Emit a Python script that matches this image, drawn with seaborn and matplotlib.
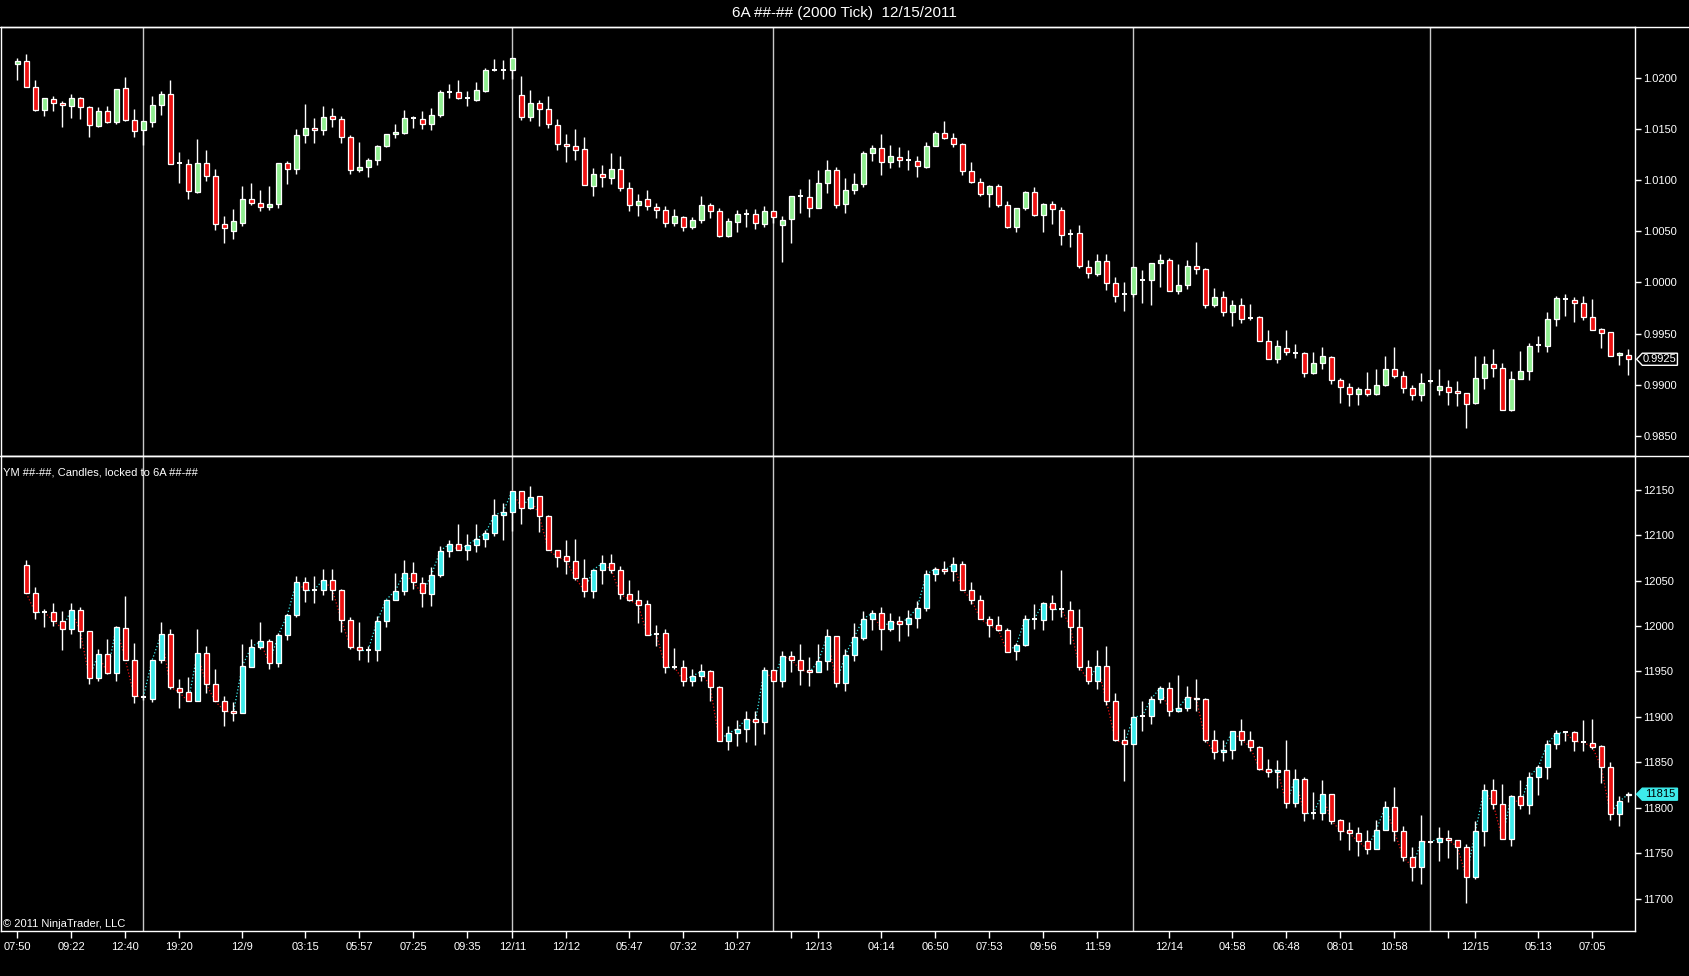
import numpy as np
import pandas as pd
import matplotlib
matplotlib.use('Agg')
import matplotlib.pyplot as plt
import matplotlib.transforms as mtransforms
from matplotlib.lines import Line2D
from matplotlib.patches import Polygon
from matplotlib.ticker import FormatStrFormatter
import seaborn as sns

# --- 6A (top panel), 180 bars of 2000 ticks ---
a_open = [
    1.0213, 1.0216, 1.0191, 1.0168, 1.0179, 1.0175, 1.0172, 1.0180, 1.0171, 1.0153,
    1.0167, 1.0157, 1.0190, 1.0159, 1.0149, 1.0157, 1.0173, 1.0184, 1.0117, 1.0116,
    1.0088, 1.0117, 1.0104, 1.0057, 1.0050, 1.0058, 1.0082, 1.0078, 1.0074, 1.0077,
    1.0117, 1.0111, 1.0144, 1.0151, 1.0149, 1.0163, 1.0160, 1.0142, 1.0110, 1.0113,
    1.0120, 1.0133, 1.0145, 1.0146, 1.0161, 1.0160, 1.0155, 1.0164, 1.0186, 1.0186,
    1.0180, 1.0178, 1.0187, 1.0208, 1.0208, 1.0208, 1.0183, 1.0162, 1.0175, 1.0169,
    1.0154, 1.0135, 1.0133, 1.0130, 1.0094, 1.0106, 1.0102, 1.0111, 1.0092, 1.0076,
    1.0082, 1.0074, 1.0071, 1.0058, 1.0064, 1.0054, 1.0061, 1.0076, 1.0070, 1.0045,
    1.0059, 1.0067, 1.0067, 1.0057, 1.0070, 1.0056, 1.0062, 1.0084, 1.0083, 1.0073,
    1.0097, 1.0110, 1.0077, 1.0090, 1.0096, 1.0126, 1.0131, 1.0118, 1.0123, 1.0120,
    1.0119, 1.0113, 1.0133, 1.0146, 1.0141, 1.0135, 1.0109, 1.0098, 1.0086, 1.0094,
    1.0076, 1.0054, 1.0073, 1.0088, 1.0066, 1.0077, 1.0071, 1.0047, 1.0048, 1.0015,
    1.0008, 1.0021, 0.9999, 0.9989, 0.9989, 1.0002, 1.0002, 1.0019, 1.0022, 0.9992,
    0.9998, 1.0016, 1.0013, 0.9978, 0.9986, 0.9971, 0.9978, 0.9965, 0.9966, 0.9943,
    0.9925, 0.9936, 0.9931, 0.9931, 0.9912, 0.9921, 0.9927, 0.9905, 0.9898, 0.9891,
    0.9896, 0.9891, 0.9900, 0.9915, 0.9909, 0.9897, 0.9890, 0.9904, 0.9895, 0.9898,
    0.9894, 0.9892, 0.9882, 0.9907, 0.9920, 0.9916, 0.9875, 0.9906, 0.9914, 0.9939,
    0.9938, 0.9964, 0.9984, 0.9983, 0.9980, 0.9966, 0.9955, 0.9952, 0.9929, 0.9929,
]
a_high = [
    1.0219, 1.0223, 1.0198, 1.0180, 1.0182, 1.0177, 1.0184, 1.0181, 1.0172, 1.0171,
    1.0172, 1.0189, 1.0201, 1.0169, 1.0158, 1.0182, 1.0187, 1.0198, 1.0127, 1.0121,
    1.0140, 1.0129, 1.0111, 1.0065, 1.0072, 1.0094, 1.0097, 1.0090, 1.0094, 1.0117,
    1.0119, 1.0150, 1.0174, 1.0161, 1.0172, 1.0170, 1.0163, 1.0144, 1.0137, 1.0122,
    1.0134, 1.0145, 1.0155, 1.0168, 1.0163, 1.0167, 1.0170, 1.0188, 1.0194, 1.0198,
    1.0187, 1.0196, 1.0209, 1.0218, 1.0217, 1.0219, 1.0202, 1.0188, 1.0178, 1.0182,
    1.0160, 1.0145, 1.0150, 1.0142, 1.0112, 1.0115, 1.0126, 1.0124, 1.0098, 1.0086,
    1.0090, 1.0078, 1.0075, 1.0072, 1.0065, 1.0064, 1.0084, 1.0078, 1.0073, 1.0063,
    1.0071, 1.0072, 1.0072, 1.0075, 1.0070, 1.0065, 1.0084, 1.0091, 1.0101, 1.0110,
    1.0120, 1.0113, 1.0102, 1.0107, 1.0128, 1.0134, 1.0145, 1.0134, 1.0132, 1.0129,
    1.0124, 1.0137, 1.0148, 1.0158, 1.0146, 1.0136, 1.0118, 1.0102, 1.0095, 1.0096,
    1.0080, 1.0073, 1.0089, 1.0093, 1.0078, 1.0080, 1.0074, 1.0052, 1.0056, 1.0022,
    1.0028, 1.0028, 1.0005, 1.0000, 1.0015, 1.0012, 1.0019, 1.0028, 1.0024, 1.0018,
    1.0022, 1.0040, 1.0014, 0.9995, 0.9992, 0.9983, 0.9985, 0.9979, 0.9967, 0.9954,
    0.9944, 0.9954, 0.9940, 0.9932, 0.9932, 0.9937, 0.9928, 0.9907, 0.9902, 0.9898,
    0.9913, 0.9915, 0.9928, 0.9937, 0.9914, 0.9900, 0.9912, 0.9905, 0.9915, 0.9905,
    0.9904, 0.9892, 0.9928, 0.9928, 0.9935, 0.9921, 0.9914, 0.9933, 0.9941, 0.9948,
    0.9971, 0.9987, 0.9989, 0.9986, 0.9987, 0.9984, 0.9956, 0.9952, 0.9932, 0.9935,
]
a_low = [
    1.0198, 1.0191, 1.0167, 1.0163, 1.0167, 1.0152, 1.0161, 1.0160, 1.0142, 1.0152,
    1.0156, 1.0155, 1.0158, 1.0142, 1.0134, 1.0152, 1.0164, 1.0116, 1.0097, 1.0082,
    1.0087, 1.0099, 1.0051, 1.0039, 1.0042, 1.0055, 1.0076, 1.0070, 1.0071, 1.0073,
    1.0096, 1.0106, 1.0136, 1.0136, 1.0144, 1.0152, 1.0136, 1.0106, 1.0108, 1.0103,
    1.0115, 1.0132, 1.0141, 1.0145, 1.0151, 1.0150, 1.0149, 1.0162, 1.0180, 1.0179,
    1.0172, 1.0177, 1.0186, 1.0207, 1.0199, 1.0199, 1.0159, 1.0158, 1.0153, 1.0151,
    1.0129, 1.0118, 1.0120, 1.0095, 1.0084, 1.0093, 1.0096, 1.0089, 1.0070, 1.0065,
    1.0071, 1.0063, 1.0054, 1.0055, 1.0050, 1.0052, 1.0058, 1.0063, 1.0044, 1.0044,
    1.0049, 1.0054, 1.0052, 1.0054, 1.0058, 1.0020, 1.0039, 1.0068, 1.0064, 1.0073,
    1.0087, 1.0073, 1.0068, 1.0086, 1.0093, 1.0119, 1.0105, 1.0112, 1.0113, 1.0110,
    1.0103, 1.0112, 1.0133, 1.0140, 1.0132, 1.0105, 1.0097, 1.0084, 1.0074, 1.0074,
    1.0053, 1.0049, 1.0071, 1.0065, 1.0049, 1.0057, 1.0037, 1.0035, 1.0014, 1.0004,
    1.0006, 0.9993, 0.9981, 0.9972, 0.9986, 0.9980, 0.9978, 0.9996, 0.9992, 0.9989,
    0.9994, 1.0008, 0.9975, 0.9976, 0.9967, 0.9957, 0.9960, 0.9963, 0.9943, 0.9925,
    0.9921, 0.9929, 0.9926, 0.9908, 0.9911, 0.9915, 0.9901, 0.9882, 0.9879, 0.9880,
    0.9889, 0.9890, 0.9899, 0.9907, 0.9892, 0.9885, 0.9884, 0.9902, 0.9890, 0.9880,
    0.9879, 0.9858, 0.9881, 0.9896, 0.9908, 0.9875, 0.9874, 0.9906, 0.9905, 0.9932,
    0.9932, 0.9957, 0.9967, 0.9961, 0.9963, 0.9954, 0.9936, 0.9928, 0.9919, 0.9910,
]
a_close = [
    1.0216, 1.0191, 1.0168, 1.0180, 1.0175, 1.0173, 1.0180, 1.0171, 1.0154, 1.0167,
    1.0157, 1.0189, 1.0159, 1.0148, 1.0158, 1.0173, 1.0184, 1.0116, 1.0117, 1.0089,
    1.0117, 1.0104, 1.0057, 1.0053, 1.0060, 1.0082, 1.0078, 1.0074, 1.0077, 1.0117,
    1.0111, 1.0144, 1.0151, 1.0149, 1.0162, 1.0160, 1.0142, 1.0110, 1.0113, 1.0120,
    1.0133, 1.0145, 1.0147, 1.0161, 1.0161, 1.0155, 1.0164, 1.0186, 1.0186, 1.0180,
    1.0180, 1.0188, 1.0208, 1.0208, 1.0208, 1.0219, 1.0162, 1.0175, 1.0169, 1.0155,
    1.0135, 1.0133, 1.0129, 1.0095, 1.0106, 1.0103, 1.0111, 1.0092, 1.0076, 1.0080,
    1.0075, 1.0071, 1.0058, 1.0065, 1.0054, 1.0061, 1.0076, 1.0070, 1.0045, 1.0060,
    1.0067, 1.0067, 1.0058, 1.0070, 1.0064, 1.0061, 1.0084, 1.0084, 1.0073, 1.0097,
    1.0110, 1.0076, 1.0090, 1.0096, 1.0126, 1.0131, 1.0118, 1.0124, 1.0120, 1.0120,
    1.0114, 1.0133, 1.0146, 1.0141, 1.0135, 1.0109, 1.0098, 1.0086, 1.0094, 1.0076,
    1.0054, 1.0073, 1.0088, 1.0066, 1.0077, 1.0072, 1.0046, 1.0047, 1.0016, 1.0009,
    1.0021, 0.9999, 0.9987, 0.9989, 1.0015, 1.0002, 1.0019, 1.0022, 0.9992, 0.9998,
    1.0016, 1.0013, 0.9978, 0.9986, 0.9971, 0.9978, 0.9964, 0.9965, 0.9943, 0.9925,
    0.9938, 0.9932, 0.9931, 0.9912, 0.9921, 0.9928, 0.9905, 0.9898, 0.9891, 0.9896,
    0.9891, 0.9900, 0.9915, 0.9909, 0.9897, 0.9890, 0.9902, 0.9904, 0.9899, 0.9893,
    0.9892, 0.9881, 0.9907, 0.9920, 0.9916, 0.9875, 0.9906, 0.9914, 0.9938, 0.9939,
    0.9964, 0.9985, 0.9984, 0.9980, 0.9966, 0.9954, 0.9951, 0.9928, 0.9931, 0.9925,
]

# --- YM (bottom panel), locked to the 6A bars, starts at bar 1 ---
ym_open = [
    12067, 12036, 12015, 12015, 12005, 11997, 12018, 11994, 11943, 11969,
    11948, 11998, 11963, 11922, 11920, 11963, 11991, 11932, 11927, 11917,
    11970, 11936, 11918, 11907, 11904, 11955, 11977, 11984, 11959, 11990,
    12012, 12048, 12040, 12040, 12051, 12040, 12007, 11977, 11974, 11974,
    12006, 12029, 12039, 12058, 12047, 12035, 12056, 12082, 12090, 12084,
    12089, 12096, 12102, 12122, 12126, 12149, 12130, 12143, 12121, 12084,
    12077, 12072, 12053, 12039, 12062, 12069, 12062, 12035, 12029, 12024,
    11991, 11992, 11955, 11955, 11940, 11945, 11950, 11933, 11874, 11882,
    11887, 11898, 11894, 11952, 11940, 11967, 11963, 11952, 11949, 11961,
    11989, 11937, 11968, 11987, 12008, 12014, 11997, 12005, 12002, 12009,
    12020, 12057, 12063, 12061, 12068, 12040, 12029, 12008, 12001, 11996,
    11972, 11979, 12008, 12007, 12025, 12019, 12018, 11999, 11955, 11940,
    11956, 11918, 11875, 11870, 11901, 11901, 11920, 11932, 11906, 11910,
    11921, 11920, 11875, 11861, 11864, 11884, 11875, 11867, 11843, 11839,
    11842, 11805, 11832, 11794, 11794, 11815, 11787, 11776, 11772, 11763,
    11755, 11776, 11801, 11774, 11746, 11735, 11762, 11762, 11767, 11765,
    11757, 11724, 11774, 11820, 11804, 11766, 11813, 11803, 11834, 11845,
    11870, 11883, 11883, 11872, 11871, 11868, 11845, 11793, 11814,
]
ym_high = [
    12073, 12043, 12019, 12025, 12016, 12025, 12021, 11994, 11975, 11986,
    12000, 12033, 11981, 11924, 11963, 12004, 11997, 11942, 11944, 11997,
    11978, 11953, 11923, 11916, 11980, 11986, 12004, 11986, 11992, 12013,
    12055, 12054, 12055, 12063, 12063, 12041, 12010, 12004, 11978, 12011,
    12029, 12058, 12073, 12070, 12054, 12065, 12088, 12095, 12112, 12101,
    12112, 12106, 12140, 12135, 12149, 12149, 12154, 12143, 12122, 12084,
    12095, 12096, 12074, 12062, 12078, 12079, 12066, 12051, 12040, 12029,
    12001, 11997, 11976, 11963, 11953, 11958, 11952, 11934, 11890, 11897,
    11906, 11906, 11955, 11952, 11972, 11972, 11980, 11966, 11980, 11997,
    11989, 11975, 12003, 12016, 12018, 12021, 12014, 12011, 12018, 12028,
    12062, 12065, 12072, 12076, 12071, 12048, 12034, 12011, 12011, 11998,
    11981, 12012, 12024, 12026, 12034, 12062, 12027, 12019, 11963, 11974,
    11978, 11926, 11887, 11900, 11917, 11923, 11934, 11938, 11946, 11934,
    11942, 11921, 11886, 11875, 11885, 11898, 11885, 11868, 11854, 11853,
    11875, 11843, 11834, 11817, 11831, 11815, 11788, 11784, 11779, 11776,
    11787, 11807, 11823, 11780, 11757, 11792, 11763, 11779, 11776, 11765,
    11760, 11785, 11826, 11832, 11826, 11814, 11831, 11839, 11847, 11875,
    11886, 11885, 11884, 11897, 11898, 11869, 11850, 11813, 11817,
]
ym_low = [
    12036, 12008, 11999, 12000, 11974, 11991, 11976, 11936, 11940, 11947,
    11939, 11963, 11915, 11919, 11916, 11959, 11931, 11910, 11917, 11917,
    11926, 11917, 11890, 11896, 11904, 11955, 11975, 11953, 11955, 11985,
    12010, 12026, 12025, 12034, 12029, 11993, 11975, 11963, 11960, 11961,
    11999, 12029, 12034, 12041, 12021, 12022, 12054, 12076, 12084, 12073,
    12081, 12087, 12099, 12095, 12105, 12112, 12129, 12103, 12084, 12065,
    12057, 12051, 12032, 12031, 12046, 12058, 12030, 12028, 12003, 11990,
    11978, 11948, 11953, 11934, 11934, 11940, 11918, 11874, 11864, 11868,
    11872, 11869, 11881, 11940, 11933, 11949, 11935, 11934, 11949, 11952,
    11933, 11929, 11962, 11985, 11996, 11974, 11994, 11983, 11989, 11998,
    12017, 12050, 12057, 12050, 12040, 12024, 12008, 11988, 11995, 11971,
    11963, 11978, 11997, 11996, 12007, 12010, 11980, 11952, 11936, 11931,
    11913, 11874, 11830, 11870, 11885, 11892, 11915, 11901, 11905, 11906,
    11907, 11872, 11854, 11851, 11854, 11869, 11862, 11842, 11834, 11822,
    11800, 11801, 11786, 11788, 11787, 11782, 11765, 11754, 11747, 11749,
    11755, 11776, 11763, 11741, 11720, 11716, 11761, 11742, 11745, 11733,
    11695, 11722, 11758, 11799, 11766, 11758, 11799, 11793, 11814, 11832,
    11865, 11874, 11863, 11863, 11865, 11827, 11787, 11780, 11806,
]
ym_close = [
    12036, 12015, 12015, 12006, 11997, 12018, 11994, 11943, 11969, 11948,
    11999, 11963, 11923, 11922, 11963, 11991, 11933, 11927, 11917, 11970,
    11936, 11917, 11907, 11904, 11956, 11977, 11983, 11959, 11990, 12012,
    12048, 12040, 12040, 12051, 12040, 12007, 11977, 11974, 11974, 12006,
    12029, 12039, 12058, 12048, 12036, 12056, 12083, 12090, 12084, 12089,
    12096, 12102, 12122, 12126, 12149, 12130, 12142, 12121, 12084, 12076,
    12072, 12053, 12039, 12062, 12069, 12062, 12035, 12029, 12023, 11990,
    11991, 11955, 11955, 11940, 11945, 11950, 11933, 11874, 11882, 11887,
    11898, 11894, 11952, 11940, 11967, 11963, 11952, 11949, 11961, 11989,
    11937, 11968, 11988, 12008, 12014, 11997, 12005, 12002, 12009, 12020,
    12057, 12063, 12061, 12068, 12040, 12029, 12008, 12001, 11996, 11971,
    11979, 12008, 12008, 12025, 12019, 12019, 11999, 11955, 11940, 11956,
    11918, 11875, 11870, 11900, 11901, 11920, 11932, 11906, 11910, 11922,
    11920, 11875, 11861, 11864, 11884, 11875, 11867, 11843, 11839, 11842,
    11805, 11832, 11794, 11794, 11815, 11786, 11775, 11772, 11763, 11755,
    11776, 11801, 11774, 11746, 11735, 11763, 11762, 11767, 11765, 11757,
    11724, 11774, 11820, 11804, 11766, 11813, 11803, 11834, 11845, 11870,
    11882, 11883, 11873, 11872, 11867, 11845, 11793, 11807, 11815,
]

# x-axis: bar index -> label
tick_bars = [0, 6, 12, 18, 25, 32, 38, 44, 50, 55, 61, 68, 74, 80, 86, 89,
             96, 102, 108, 114, 120, 128, 135, 141, 147, 153, 159, 162, 169, 175]
tick_labels = ['07:50', '09:22', '12:40', '19:20', '12/9', '03:15', '05:57', '07:25',
               '09:35', '12/11', '12/12', '05:47', '07:32', '10:27', '', '12/13',
               '04:14', '06:50', '07:53', '09:56', '11:59', '12/14', '04:58', '06:48',
               '08:01', '10:58', '', '12/15', '05:13', '07:05']
session_bars = [14, 55, 84, 124, 157]

a_ticks = [0.9850, 0.9900, 0.9950, 1.0000, 1.0050, 1.0100, 1.0150, 1.0200]
ym_ticks = [11700, 11750, 11800, 11850, 11900, 11950, 12000, 12050, 12100, 12150]

GREEN = '#90EE90'
RED = '#EE1111'
CYAN = '#3DEBEB'

sns.set_theme(style='dark', rc={
    'figure.facecolor': 'black',
    'axes.facecolor': 'black',
    'axes.edgecolor': 'white',
    'axes.linewidth': 1.0,
    'axes.grid': False,
    'text.color': 'white',
    'xtick.color': 'white',
    'ytick.color': 'white',
})
plt.rcParams['font.family'] = ['Liberation Sans Narrow', 'Liberation Sans', 'DejaVu Sans']


def draw_candles(ax, x, o, h, l, c, up_col, down_col, tol):
    x = np.asarray(x, dtype=float)
    o, h, l, c = (np.asarray(v, dtype=float) for v in (o, h, l, c))
    ax.vlines(x, l, h, color='white', lw=1.0, zorder=2)
    body = np.abs(c - o)
    doji = body < tol
    cols = np.where(c > o, up_col, down_col)
    ax.bar(x[~doji], body[~doji], bottom=np.minimum(o, c)[~doji], width=0.62,
           color=cols[~doji], edgecolor='white', linewidth=0.9, zorder=3)
    ax.hlines(c[doji], x[doji] - 0.31, x[doji] + 0.31, color='white', lw=1.4, zorder=3)


def price_tag(ax, y, hh, text, face, edge, tcol):
    tr = mtransforms.blended_transform_factory(ax.transAxes, ax.transData)
    pts = [(1.001, y), (1.0045, y + hh), (1.026, y + hh), (1.026, y - hh), (1.0045, y - hh)]
    ax.add_patch(Polygon(pts, closed=True, transform=tr, facecolor=face,
                         edgecolor=edge, lw=1, clip_on=False, zorder=10))
    ax.text(1.0153, y, text, transform=tr, ha='center', va='center',
            fontsize=8, color=tcol, clip_on=False, zorder=11)


fig = plt.figure(figsize=(16.89, 9.76), dpi=100)
ax_top = fig.add_axes([0.0006, 0.5331, 0.9674, 0.4392])
ax_bot = fig.add_axes([0.0006, 0.0465, 0.9674, 0.4866])

x_a = np.arange(len(a_close))
x_ym = np.arange(1, len(ym_close) + 1)

# closes of YM joined by a dotted line, coloured by direction
seg_rows = []
for i in range(len(ym_close) - 1):
    d = 'up' if ym_close[i + 1] >= ym_close[i] else 'down'
    seg_rows.append((x_ym[i], ym_close[i], i, d))
    seg_rows.append((x_ym[i + 1], ym_close[i + 1], i, d))
seg_df = pd.DataFrame(seg_rows, columns=['bar', 'close', 'seg', 'dir'])
sns.lineplot(data=seg_df, x='bar', y='close', units='seg', hue='dir', estimator=None,
             palette={'up': CYAN, 'down': RED}, linestyle=':', lw=0.9,
             legend=False, ax=ax_bot, zorder=1)

draw_candles(ax_top, x_a, a_open, a_high, a_low, a_close, GREEN, RED, 0.00005)
draw_candles(ax_bot, x_ym, ym_open, ym_high, ym_low, ym_close, CYAN, RED, 0.5)

for ax in (ax_top, ax_bot):
    for b in session_bars:
        ax.axvline(b, color='#C8C8C8', lw=1.0, zorder=0.5)
    ax.set_xlim(-1.81, 179.74)
    ax.set_xlabel('')
    ax.set_ylabel('')
    for s in ax.spines.values():
        s.set_color('white')
        s.set_linewidth(1.0)
    ax.yaxis.tick_right()
    ax.tick_params(axis='y', direction='out', length=4, width=1, colors='white',
                   labelsize=8, pad=2, right=True, left=False,
                   labelright=True, labelleft=False)

ax_top.set_ylim(0.98308, 1.02495)
ax_top.set_yticks(a_ticks)
ax_top.yaxis.set_major_formatter(FormatStrFormatter('%.4f'))
ax_top.tick_params(axis='x', bottom=False, labelbottom=False)

ax_bot.set_ylim(11664.9, 12187.4)
ax_bot.set_yticks(ym_ticks)
ax_bot.yaxis.set_major_formatter(FormatStrFormatter('%d'))
ax_bot.set_xticks(tick_bars)
ax_bot.set_xticklabels(tick_labels)
ax_bot.tick_params(axis='x', direction='out', length=5, width=1, colors='white',
                   labelsize=8, pad=3, bottom=True)

price_tag(ax_top, a_close[-1], 0.00059, f'{a_close[-1]:.4f}', 'black', 'white', 'white')
price_tag(ax_bot, ym_close[-1], 6.6, f'{ym_close[-1]:d}', CYAN, CYAN, 'black')

# frame lines running across the whole window
for yf in (1 - 27 / 976, 0.5331):
    fig.add_artist(Line2D([0, 1], [yf, yf], transform=fig.transFigure,
                          color='white', lw=1.0))

fig.text(0.5, 1 - 13.3 / 976, '6A ##-## (2000 Tick)  12/15/2011', ha='center',
         va='center', fontsize=11, color='white',
         family=['Liberation Sans', 'DejaVu Sans'])
fig.text(0.0018, 1 - 472.7 / 976, 'YM ##-##, Candles, locked to 6A ##-##',
         ha='left', va='center', fontsize=8, color='white',
         family=['Liberation Sans', 'DejaVu Sans'])
fig.text(0.0018, 1 - 924.3 / 976, '\u00a9 2011 NinjaTrader, LLC',
         ha='left', va='center', fontsize=8, color='white',
         family=['Liberation Sans', 'DejaVu Sans'])

fig.savefig('out.png', dpi=100, facecolor='black')
